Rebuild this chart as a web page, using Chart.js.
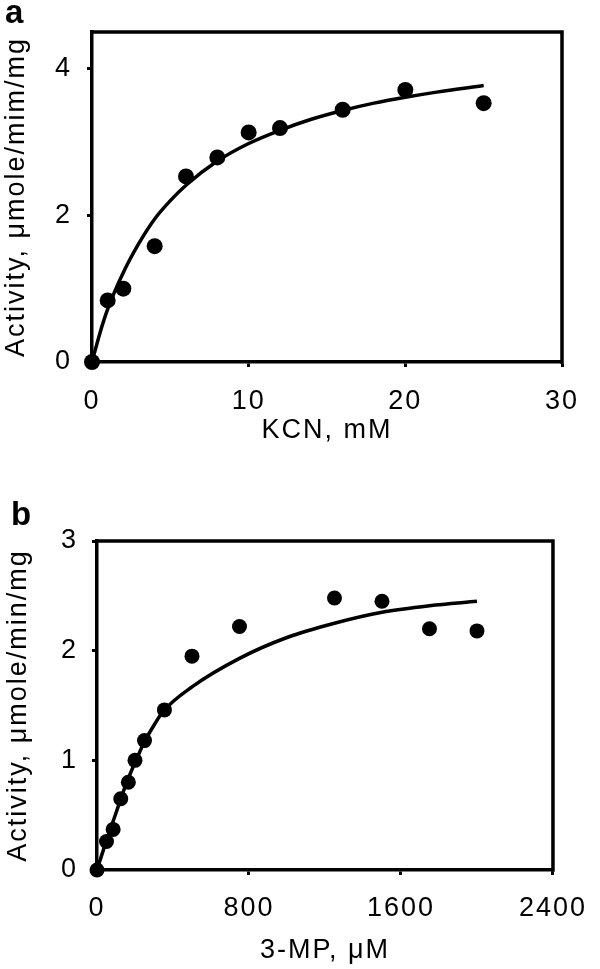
<!DOCTYPE html>
<html>
<head>
<meta charset="utf-8">
<title>Activity vs KCN and 3-MP</title>
<script src="https://cdn.jsdelivr.net/npm/chart.js@4.4.0/dist/chart.umd.min.js"></script>
<style>
    html, body { margin: 0; padding: 0; background: #fff; }
    #figure { position: relative; width: 600px; height: 969px; }
    #figure canvas { position: absolute; left: 0; }
    #chartA { top: 0; }
    #chartB { top: 480px; }
</style>
</head>
<body>
<div id="figure">
    <canvas id="chartA" width="600" height="480"></canvas>
    <canvas id="chartB" width="600" height="489"></canvas>
</div>
<script>
// Panel a: activity vs KCN (mM)
const kcnMM = [0, 1, 2, 4, 6, 8, 10, 12, 16, 20, 25];
const activityA = [0, 0.84, 1.0, 1.58, 2.53, 2.79, 3.13, 3.19, 3.44, 3.71, 3.53];
// fitted curve
const fitAX = [0, 0.5, 1, 2, 3, 4, 5, 6, 8, 10, 12, 14, 16, 18, 20, 22, 25];
const fitAY = [0, 0.39, 0.72, 1.22, 1.62, 1.95, 2.2, 2.41, 2.74, 2.98, 3.16, 3.31, 3.43, 3.53, 3.61, 3.68, 3.77];
const xTicksA = [0, 10, 20, 30];
const yTicksA = [0, 2, 4];

// Panel b: activity vs 3-MP (uM)
const mpUM = [0, 50, 85, 125, 165, 200, 250, 355, 500, 750, 1250, 1500, 1750, 2000];
const activityB = [0, 0.26, 0.37, 0.65, 0.80, 1.0, 1.18, 1.46, 1.95, 2.22, 2.48, 2.45, 2.2, 2.18];
const fitBX = [0, 50, 100, 150, 200, 250, 300, 350, 500, 750, 1000, 1250, 1500, 1750, 2000];
const fitBY = [0, 0.27, 0.52, 0.77, 0.98, 1.17, 1.32, 1.45, 1.67, 1.93, 2.12, 2.25, 2.35, 2.41, 2.45];
const xTicksB = [0, 800, 1600, 2400];
const yTicksB = [0, 1, 2, 3];

const FONT = '"Liberation Sans", Arial, Helvetica, sans-serif';
const FONT_SIZE = 27;

// frame (top + right side), wider text spacing and the panel letter
const panelFrame = {
    id: 'panelFrame',
    beforeDraw(chart) {
        chart.ctx.letterSpacing = '2px';
    },
    beforeDatasetsDraw(chart) {
        const { ctx, chartArea: { left, top, right, bottom } } = chart;
        ctx.save();
        ctx.strokeStyle = '#000';
        ctx.lineWidth = 3.5;
        ctx.beginPath();
        ctx.moveTo(left - 1.75, top);
        ctx.lineTo(right, top);
        ctx.lineTo(right, bottom + 1.75);
        ctx.stroke();
        ctx.restore();
    },
    afterDraw(chart, args, opts) {
        const ctx = chart.ctx;
        ctx.save();
        ctx.letterSpacing = '0px';
        ctx.font = 'bold 33px ' + FONT;
        ctx.fillStyle = '#000';
        ctx.textBaseline = 'alphabetic';
        ctx.fillText(opts.label, opts.x, opts.y);
        ctx.restore();
    }
};

function toPoints(xs, ys) {
    return xs.map((x, i) => ({ x: x, y: ys[i] }));
}

function makePanel(canvasId, p) {
    const ctx = document.getElementById(canvasId).getContext('2d');
    const tickFont = { family: FONT, size: FONT_SIZE };
    return new Chart(ctx, {
        type: 'scatter',
        data: {
            datasets: [
                {
                    data: toPoints(p.fitX, p.fitY),
                    showLine: true,
                    borderColor: '#000',
                    borderWidth: 3.5,
                    pointRadius: 0,
                    cubicInterpolationMode: 'monotone',
                    clip: false
                },
                {
                    data: toPoints(p.x, p.y),
                    showLine: false,
                    pointRadius: p.radius,
                    backgroundColor: '#000',
                    borderWidth: 0,
                    clip: false
                }
            ]
        },
        options: {
            responsive: false,
            animation: false,
            events: [],
            layout: { padding: p.padding },
            plugins: {
                legend: { display: false },
                tooltip: { enabled: false },
                panelFrame: { label: p.label, x: p.labelX, y: p.labelY }
            },
            scales: {
                x: {
                    type: 'linear',
                    min: p.xTicks[0],
                    max: p.xTicks[p.xTicks.length - 1],
                    afterBuildTicks: s => { s.ticks = p.xTicks.map(v => ({ value: v })); },
                    afterFit: s => { s.height = p.xAxisHeight; },
                    border: { display: true, color: '#000', width: 3.5 },
                    grid: { drawOnChartArea: false, drawTicks: true, tickLength: 5, tickWidth: 3, tickColor: '#000' },
                    ticks: { color: '#000', font: tickFont, padding: p.xTickPad, maxRotation: 0, callback: v => String(v) },
                    title: {
                        display: true,
                        text: p.xTitle,
                        color: '#000',
                        font: { family: FONT, size: FONT_SIZE },
                        padding: { top: 0, bottom: p.xTitlePad }
                    }
                },
                y: {
                    type: 'linear',
                    min: 0,
                    max: p.yMax,
                    afterBuildTicks: s => { s.ticks = p.yTicks.map(v => ({ value: v })); },
                    afterFit: s => { s.width = p.yAxisWidth; },
                    border: { display: true, color: '#000', width: 3.5 },
                    grid: { drawOnChartArea: false, drawTicks: true, tickLength: 5, tickWidth: 3, tickColor: '#000' },
                    ticks: { color: '#000', font: tickFont, padding: p.yTickPad, callback: v => String(v) },
                    title: {
                        display: true,
                        text: p.yTitle,
                        color: '#000',
                        font: { family: FONT, size: FONT_SIZE },
                        padding: { top: p.yTitlePad, bottom: 0 }
                    }
                }
            }
        },
        plugins: [panelFrame]
    });
}

document.addEventListener('DOMContentLoaded', () => {
    makePanel('chartA', {
        x: kcnMM, y: activityA, fitX: fitAX, fitY: fitAY,
        xTicks: xTicksA, yTicks: yTicksA, yMax: 4.5,
        xTitle: 'KCN, mM', yTitle: 'Activity, \u03bcmole/mim/mg',
        padding: { left: 0, top: 32, right: 38, bottom: 0 },
        yAxisWidth: 92, xAxisHeight: 118,
        xTickPad: 18, yTickPad: 15, xTitlePad: 33, yTitlePad: 0,
        radius: 8, label: 'a', labelX: 5, labelY: 23
    });
    makePanel('chartB', {
        x: mpUM, y: activityB, fitX: fitBX, fitY: fitBY,
        xTicks: xTicksB, yTicks: yTicksB, yMax: 3,
        xTitle: '3-MP, \u03bcM', yTitle: 'Activity, \u03bcmole/min/mg',
        padding: { left: 0, top: 61, right: 34, bottom: 0 },
        yAxisWidth: 97, xAxisHeight: 99,
        xTickPad: 17, yTickPad: 14, xTitlePad: 2, yTitlePad: 2,
        radius: 7.5, label: 'b', labelX: 11, labelY: 45
    });
});
</script>
</body>
</html>
